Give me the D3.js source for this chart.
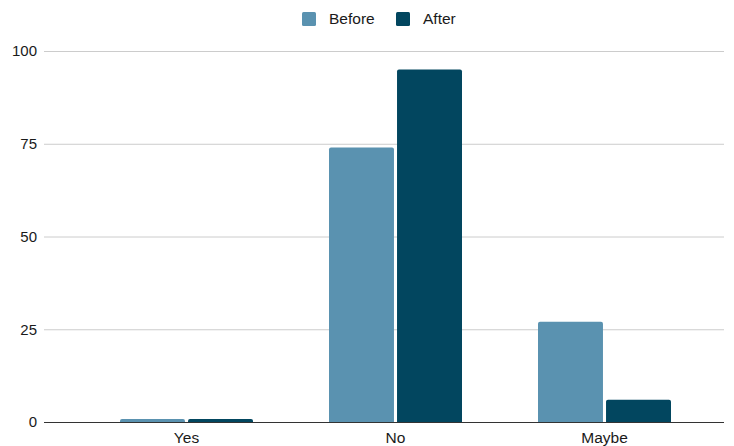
<!DOCTYPE html>
<html>
<head>
<meta charset="utf-8">
<script src="https://cdn.jsdelivr.net/npm/d3@7"></script>
<style>
  body { margin: 0; background: #fff; }
  svg { font-family: "Liberation Sans", Arial, sans-serif; }
</style>
</head>
<body>
<div id="chart"></div>
<script>
var categories = ["Yes", "No", "Maybe"];
var seriesNames = ["Before", "After"];
var beforeValues = [0.8, 74, 27];
var afterValues = [0.8, 95, 6];
var yTicks = [0, 25, 50, 75, 100];
var colors = ["#5a92b0", "#02465f"];

var width = 734, height = 446;
var svg = d3.select("#chart").append("svg")
  .attr("width", width)
  .attr("height", height);

var x = d3.scaleBand().domain(categories).range([82, 709]);
var xs = d3.scaleBand().domain(seriesNames)
  .range([(x.bandwidth() - 133) / 2, (x.bandwidth() + 133) / 2])
  .paddingInner(0.045);
var y = d3.scaleLinear().domain([0, 100]).range([422, 51]);

// grid
svg.append("g").selectAll("line")
  .data(yTicks.filter(function (d) { return d !== 0; }))
  .enter().append("line")
  .attr("x1", 44).attr("x2", 724)
  .attr("y1", function (d) { return y(d) + 0.5; })
  .attr("y2", function (d) { return y(d) + 0.5; })
  .attr("stroke", "#cccccc").attr("stroke-width", 1);

// y labels
svg.append("g").selectAll("text")
  .data(yTicks).enter().append("text")
  .attr("x", 37).attr("y", function (d) { return y(d); })
  .attr("dy", "0.35em")
  .attr("text-anchor", "end")
  .style("font-size", "15px").style("fill", "#1a1a1a")
  .text(function (d) { return d; });

// bars with rounded top
function barPath(x0, w, yTop, yBase, r) {
  r = Math.min(r, (yBase - yTop) / 1, w / 2);
  return "M" + x0 + "," + yBase +
    "V" + (yTop + r) +
    "Q" + x0 + "," + yTop + " " + (x0 + r) + "," + yTop +
    "H" + (x0 + w - r) +
    "Q" + (x0 + w) + "," + yTop + " " + (x0 + w) + "," + (yTop + r) +
    "V" + yBase + "Z";
}

var rows = categories.map(function (c, i) {
  return { cat: c, vals: [beforeValues[i], afterValues[i]] };
});

var groups = svg.append("g").selectAll("g")
  .data(rows).enter().append("g")
  .attr("transform", function (d) { return "translate(" + x(d.cat) + ",0)"; });

groups.selectAll("path")
  .data(function (d) {
    return d.vals.map(function (v, j) { return { name: seriesNames[j], v: v, j: j }; });
  })
  .enter().append("path")
  .attr("d", function (d) {
    return barPath(xs(d.name), xs.bandwidth(), y(d.v), y(0), 2);
  })
  .attr("fill", function (d) { return colors[d.j]; });

// baseline
svg.append("line")
  .attr("x1", 44).attr("x2", 724)
  .attr("y1", y(0) + 0.5).attr("y2", y(0) + 0.5)
  .attr("stroke", "#333").attr("stroke-width", 1);

// x labels
svg.append("g").selectAll("text")
  .data(categories).enter().append("text")
  .attr("x", function (d) { return x(d) + x.bandwidth() / 2; })
  .attr("y", 443)
  .attr("text-anchor", "middle")
  .style("font-size", "15.5px").style("fill", "#1a1a1a")
  .text(function (d) { return d; });

// legend
var legendX = [302, 396];
var legend = svg.append("g").selectAll("g")
  .data(seriesNames).enter().append("g")
  .attr("transform", function (d, i) { return "translate(" + legendX[i] + ",12)"; });
legend.append("rect")
  .attr("width", 14).attr("height", 14).attr("rx", 1.5)
  .attr("fill", function (d, i) { return colors[i]; });
legend.append("text")
  .attr("x", 27).attr("y", 7).attr("dy", "0.35em")
  .style("font-size", "15.5px").style("fill", "#1a1a1a")
  .text(function (d) { return d; });
</script>
</body>
</html>
